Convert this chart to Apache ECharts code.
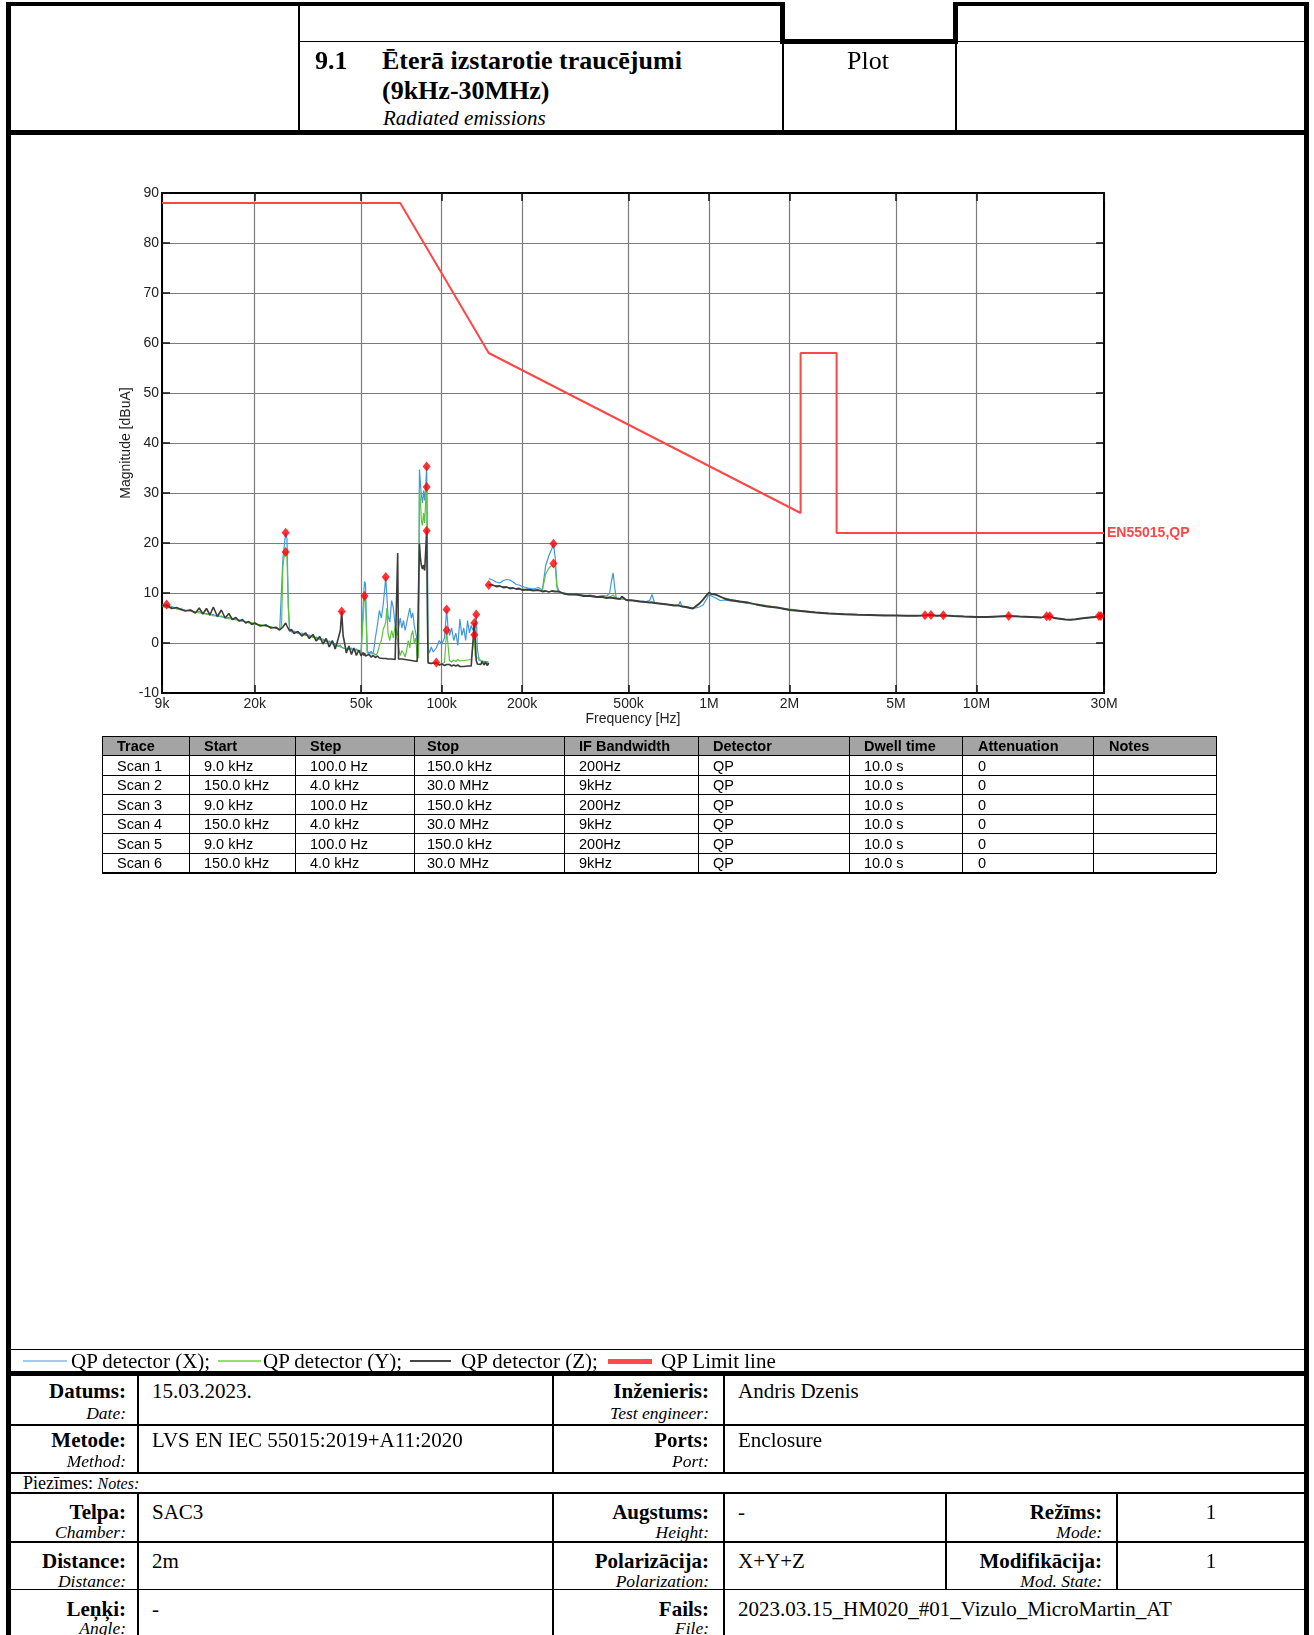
<!DOCTYPE html>
<html lang="lv">
<head>
<meta charset="utf-8">
<title>Ēterā izstarotie traucējumi (9kHz-30MHz)</title>
<script src="https://cdn.jsdelivr.net/npm/echarts@6.0.0/dist/echarts.min.js"></script>
<style>
  html, body { margin: 0; padding: 0; background: #fff; }
  body { position: relative; width: 1314px; height: 1635px; overflow: hidden;
         font-family: "Liberation Serif", "Times New Roman", serif; color: #000; }
  .ln { position: absolute; background: #000; }
  .tx { position: absolute; white-space: nowrap; line-height: 1; }
  .b { font-weight: bold; }
  .i { font-style: italic; }
  .sans { font-family: "Liberation Sans", Arial, sans-serif; }
  #chart { position: absolute; left: 0; top: 140px; width: 1314px; height: 600px; }
</style>
</head>
<body>
<div id="chart"></div>
<script>
// ---- Scan 1: 9 kHz - 150 kHz (frequencies in kHz, levels in dBuA) ----
const scan1Khz = [9.0, 9.37, 9.8, 10.2, 10.6, 11.0, 11.5, 12.0, 12.4, 12.8,
  13.2, 13.6, 14.0, 14.5, 15.0, 15.5, 16.0, 16.5, 17.0, 17.5,
  18.0, 18.5, 19.0, 19.5, 20.0, 21.0, 22.0, 23.0, 24.0, 24.8,
  25.2, 25.5, 25.8, 26.1, 26.4, 26.7, 27.0, 27.5, 28.0, 29.0,
  30, 31, 32, 33, 34, 35, 36, 37, 38, 39,
  40, 41, 41.8, 42.3, 42.8, 43.5, 44, 45, 46, 47,
  48, 49, 50, 50.8, 51.2, 51.5, 51.9, 52.3, 52.7, 53.5,
  54.5, 55.5, 56.5, 57.5, 58.5, 59.5, 60.5, 61.3, 61.8, 62.4,
  63, 64, 65, 66, 67, 68, 68.5, 69, 70, 71,
  72, 73, 74, 75, 76, 77, 78, 79, 80, 81,
  82, 82.6, 83.3, 84.0, 84.8, 85.6, 86.4, 87.2, 87.9, 88.5,
  89, 90, 91.5, 93, 95.5, 98, 100, 102.5, 104.4, 105.5,
  107, 109, 111, 113, 115, 117, 119, 121, 123, 125,
  127, 129, 131, 132.5, 133.5, 134.7, 136, 138, 140, 142,
  144, 146, 148, 150];
const scan1X = [7.6, 7.7, 7.3, 6.8, 6.9, 6.5, 6.6, 6.1, 6.3, 5.9,
  5.9, 5.6, 5.7, 5.3, 5.4, 5.0, 5.1, 4.7, 4.8, 4.4,
  4.5, 4.1, 4.2, 3.8, 4.0, 3.5, 3.6, 3.1, 3.2, 2.7,
  3.0, 17.0, 19.5, 22.05, 20.8, 8.0, 2.6, 2.2, 2.4, 1.9,
  2.0, 1.5, 1.6, 1.1, 1.2, 0.7, 0.8, 0.2, 0.4, -0.2,
  -0.3, -0.7, -0.4, -0.9, -0.6, -1.1, -0.8, -1.3, -1.0, -1.5,
  -1.2, -1.7, -1.5, -1.8, 10.5, 12.3, 11.8, 5.0, -1.5, -2.1,
  -1.7, -2.2, 1.0, 3.5, 6.5, 5.0, 7.8, 11.0, 13.2, 9.5,
  5.5, 4.2, 8.5, 7.0, 3.5, 2.0, 1.5, 3.0, 5.0, 3.0,
  4.5, 2.5, 4.0, 5.5, 7.0, 5.0, 6.0, 3.5, 2.0, 0.5,
  -0.5, 34.7, 32.0, 29.5, 28.0, 30.5, 28.5, 31.5, 35.3, 20.0,
  -1.0, -2.0, -0.8, -1.8, -1.0, 0.5, -0.3, 1.0, 6.7, 3.5,
  1.5, 3.0, 0.5, 2.0, -0.5, 4.8, 1.5, 3.0, 0.5, 4.5,
  2.0, 3.5, 2.5, 4.0, 3.0, 5.7, -1.0, -3.5, -3.8, -3.6,
  -4.0, -3.7, -4.1, -3.8];
const scan1Y = [7.3, 7.0, 7.1, 6.9, 6.6, 6.6, 6.3, 6.2, 6.0, 6.0,
  5.7, 5.8, 5.4, 5.5, 5.2, 5.1, 4.8, 4.9, 4.6, 4.6,
  4.3, 4.3, 4.0, 4.1, 3.7, 3.7, 3.3, 3.3, 2.9, 2.9,
  3.4, 15.5, 17.5, 18.2, 17.4, 7.0, 2.8, 2.5, 2.1, 2.2,
  1.7, 1.8, 1.3, 1.4, 0.9, 1.0, 0.5, 0.6, 0.0, 0.2,
  -0.6, -0.4, -0.8, -0.7, -1.0, -0.8, -1.2, -1.0, -1.4, -1.2,
  -1.6, -1.5, -1.9, -1.6, 7.5, 9.4, 8.8, 3.0, -2.0, -1.8,
  -2.2, -2.0, -2.4, -2.1, -0.5, 0.5, 2.8, 3.5, 4.2, 7.0,
  2.0, 0.5, 2.5, 1.0, 3.5, 1.0, 0.5, -1.0, -2.5, -1.5,
  -2.0, -2.8, -1.5, 0.5, -1.0, 1.5, 2.5, 0.0, 1.0, -2.5,
  -3.0, 30.9, 28.5, 24.5, 23.5, 26.0, 24.0, 28.5, 31.2, 12.0,
  -3.8, -4.2, -4.0, -4.3, -4.1, -4.4, -4.2, -3.9, 2.54, 0.0,
  -3.5, -3.8, -3.4, -3.7, -3.3, -3.6, -3.2, -3.5, -3.1, -3.4,
  -3.0, -3.3, -2.9, 1.67, -2.5, -3.0, -3.3, -3.0, -3.6, -3.2,
  -3.8, -3.4, -3.9, -4.4];
const scan1Z = [7.4, 7.5, 6.9, 7.1, 6.7, 6.4, 6.6, 6.0, 7.0, 5.8,
  6.9, 5.6, 7.2, 5.3, 6.6, 5.0, 5.9, 4.7, 5.1, 4.4,
  4.7, 4.0, 4.3, 3.7, 4.0, 3.4, 3.6, 3.0, 3.1, 2.6,
  2.9, 3.2, 3.6, 4.0, 3.4, 2.9, 2.4, 2.7, 1.9, 2.3,
  1.4, 2.0, 0.9, 1.7, 0.4, 1.3, -0.2, 0.9, -0.8, 0.5,
  -1.2, 0.8, 2.5, 6.3, 1.5, -0.4, -2.0, -0.6, -2.3, -1.0,
  -2.5, -1.4, -2.6, -1.9, -2.5, -2.0, -2.6, -2.2, -2.7, -2.3,
  -2.8, -2.5, -2.9, -2.6, -3.0, -2.7, -3.1, -2.8, -3.1, -2.9,
  -3.2, -2.9, -3.2, -3.0, -3.3, -3.1, 18.0, -3.2, -3.4, -3.2,
  -3.5, -3.3, -3.6, -3.4, -3.7, -3.5, -3.8, -3.6, -3.9, -3.7,
  -3.9, 19.9, 17.0, 15.5, 14.8, 15.6, 14.5, 18.5, 22.45, 5.0,
  -4.0, -4.3, -4.1, -4.4, -3.9, -4.4, -4.2, -4.5, -4.3, -4.5,
  -4.3, -4.6, -4.4, -4.6, -4.4, -4.7, -4.5, -4.7, -4.4, -4.6,
  -4.3, -4.6, -4.4, 4.0, 1.0, -3.5, -4.2, -3.8, -4.3, -3.7,
  -4.4, -3.8, -4.5, -4.0];

// ---- Scan 2: 150 kHz - 30 MHz ----
const scan2Khz = [150, 155, 160, 165, 170, 175, 180, 185, 190, 195,
  200, 210, 220, 230, 238, 245, 252, 258, 262, 266,
  270, 275, 285, 300, 320, 340, 360, 380, 400, 415,
  425, 432, 438, 444, 450, 465, 472, 490, 520, 550,
  580, 600, 612, 625, 650, 700, 740, 770, 780, 790,
  820, 850, 870, 890, 920, 950, 980, 1000, 1020, 1060,
  1100, 1150, 1200, 1300, 1400, 1500, 1650, 1800, 2000, 2200,
  2500, 2800, 3200, 3600, 4000, 4500, 5000, 5500, 6000, 6420,
  6760, 7100, 7520, 8200, 9000, 10000, 11000, 12000, 13200, 14500,
  16000, 17500, 18300, 18800, 19500, 20500, 21500, 22500, 23500, 25000,
  26500, 28000, 28700, 29200, 30000];
const scan2X = [12.9, 12.6, 12.2, 12.0, 12.5, 12.7, 12.6, 12.2, 11.7, 11.6,
  11.3, 11.0, 10.8, 11.1, 10.6, 15.5, 17.5, 18.8, 19.86, 17.0,
  11.5, 10.2, 10.0, 9.8, 9.8, 9.5, 9.6, 9.3, 9.5, 9.4,
  10.0, 12.5, 14.0, 11.0, 9.0, 8.9, 8.8, 8.7, 8.5, 8.4,
  8.3, 8.5, 9.7, 8.1, 7.9, 7.7, 7.5, 7.6, 8.3, 7.4,
  7.3, 7.0, 6.9, 7.0, 7.2, 7.6, 8.8, 9.9, 9.4, 9.0,
  8.5, 8.6, 8.4, 8.2, 7.9, 7.7, 7.3, 7.0, 6.7, 6.4,
  6.1, 5.9, 5.8, 5.7, 5.6, 5.55, 5.5, 5.5, 5.45, 5.5,
  5.5, 5.45, 5.5, 5.4, 5.3, 5.2, 5.25, 5.3, 5.35, 5.3,
  5.2, 5.1, 5.35, 5.3, 5.0, 4.85, 4.7, 4.65, 4.75, 4.95,
  5.1, 5.2, 5.4, 5.35, 5.3];
const scan2Y = [11.7, 11.5, 11.5, 11.3, 11.3, 11.1, 11.1, 10.9, 10.9, 10.7,
  10.8, 10.6, 10.6, 10.4, 10.5, 13.8, 15.0, 15.5, 15.9, 15.2,
  11.0, 10.1, 10.0, 9.8, 9.6, 9.6, 9.4, 9.3, 9.2, 9.1,
  9.2, 9.4, 9.6, 9.3, 8.9, 8.8, 8.8, 8.7, 8.5, 8.3,
  8.2, 8.1, 8.2, 8.0, 7.9, 7.7, 7.6, 7.5, 7.4, 7.4,
  7.2, 7.1, 7.0, 7.2, 7.8, 8.6, 9.5, 10.0, 9.9, 9.6,
  9.2, 9.0, 8.7, 8.4, 8.0, 7.8, 7.5, 7.1, 6.8, 6.5,
  6.2, 6.0, 5.8, 5.7, 5.6, 5.55, 5.5, 5.45, 5.5, 5.5,
  5.5, 5.45, 5.5, 5.4, 5.3, 5.2, 5.2, 5.3, 5.4, 5.3,
  5.2, 5.1, 5.3, 5.35, 5.0, 4.85, 4.7, 4.65, 4.75, 4.95,
  5.1, 5.2, 5.35, 5.4, 5.3];
const scan2Z = [11.6, 11.6, 11.3, 11.4, 11.1, 11.2, 10.9, 11.0, 10.8, 10.9,
  10.6, 10.7, 10.5, 10.6, 10.3, 10.4, 10.2, 10.4, 10.1, 10.3,
  10.0, 10.3, 9.9, 9.7, 9.7, 9.4, 9.4, 9.2, 9.2, 9.0,
  9.1, 9.0, 9.0, 8.9, 8.9, 8.8, 9.3, 8.6, 8.5, 8.3,
  8.2, 8.1, 8.1, 8.0, 7.9, 7.7, 7.5, 7.5, 7.4, 7.3,
  7.2, 7.0, 6.9, 7.3, 7.9, 8.7, 9.6, 10.1, 9.8, 9.7,
  9.3, 8.8, 8.6, 8.3, 8.1, 7.7, 7.3, 7.1, 6.6, 6.4,
  6.1, 5.9, 5.75, 5.65, 5.6, 5.5, 5.5, 5.45, 5.45, 5.53,
  5.6, 5.45, 5.53, 5.4, 5.3, 5.2, 5.2, 5.3, 5.4, 5.3,
  5.2, 5.1, 5.37, 5.37, 5.0, 4.85, 4.7, 4.65, 4.75, 4.95,
  5.1, 5.2, 5.4, 5.4, 5.3];

// ---- Peak markers ----
const peakKhz = [9.37, 26.1, 26.1, 42.3, 51.5, 61.8, 87.9, 87.9, 87.9, 95.5,
  104.4, 104.4, 132.5, 132.5, 134.7, 150, 262, 262, 6420, 6760,
  7520, 13200, 18300, 18800, 28700, 29200];
const peakDb = [7.7, 22.05, 18.2, 6.3, 9.4, 13.2, 35.3, 31.2, 22.45, -3.9,
  6.7, 2.54, 4.0, 1.67, 5.7, 11.6, 19.86, 15.9, 5.53, 5.6,
  5.53, 5.4, 5.37, 5.37, 5.4, 5.4];

// ---- QP limit line EN55015 ----
const limitKhz = [9, 70, 150, 2200, 2200, 3000, 3000, 30000];
const limitDb = [88, 88, 58, 26, 58, 58, 22, 22];
const limitName = 'EN55015,QP';

// ---- Axis ticks ----
const freqTicksHz = [9000, 20000, 50000, 100000, 200000, 500000, 1e6, 2e6, 5e6, 1e7, 3e7];
const freqTickLabels = ['9k', '20k', '50k', '100k', '200k', '500k', '1M', '2M', '5M', '10M', '30M'];
const levelMin = -10, levelMax = 90, levelStep = 10;

// ---- Tables ----
const traceHeader = ['Trace', 'Start', 'Step', 'Stop', 'IF Bandwidth', 'Detector', 'Dwell time', 'Attenuation', 'Notes'];
const traceRows = [
  ['Scan 1', '9.0 kHz', '100.0 Hz', '150.0 kHz', '200Hz', 'QP', '10.0 s', '0', ''],
  ['Scan 2', '150.0 kHz', '4.0 kHz', '30.0 MHz', '9kHz', 'QP', '10.0 s', '0', ''],
  ['Scan 3', '9.0 kHz', '100.0 Hz', '150.0 kHz', '200Hz', 'QP', '10.0 s', '0', ''],
  ['Scan 4', '150.0 kHz', '4.0 kHz', '30.0 MHz', '9kHz', 'QP', '10.0 s', '0', ''],
  ['Scan 5', '9.0 kHz', '100.0 Hz', '150.0 kHz', '200Hz', 'QP', '10.0 s', '0', ''],
  ['Scan 6', '150.0 kHz', '4.0 kHz', '30.0 MHz', '9kHz', 'QP', '10.0 s', '0', '']
];
const legendItems = ['QP detector (X);', 'QP detector (Y);', 'QP detector (Z);', 'QP Limit line'];

// ---------------------------------------------------------------
const SANS = '"Liberation Sans", Arial, sans-serif';
const toPairs = (khz, vals) => khz.map((f, i) => [f * 1000, vals[i]]);
function tickLabel(v) {
  let best = 0, bestD = Infinity;
  freqTicksHz.forEach((t, i) => { const d = Math.abs(Math.log(v / t)); if (d < bestD) { bestD = d; best = i; } });
  return bestD < 0.01 ? freqTickLabels[best] : '';
}

const chart = echarts.init(document.getElementById('chart'), null, { renderer: 'canvas' });
const axisLineStyle = { color: '#000', width: 2 };
const tickStyle = { show: true, inside: true, length: 8, lineStyle: { color: '#111', width: 1.5 } };
const gridLine = { show: true, lineStyle: { color: '#7c7c7c', width: 1.2, type: 'solid' } };

const traceLine = (name, data, color, width, z) => ({
  name, type: 'line', data, showSymbol: false, symbol: 'none', silent: true,
  lineStyle: { color, width }, itemStyle: { color }, z, animation: false, clip: true
});

chart.setOption({
  backgroundColor: 'transparent',
  animation: false,
  grid: { left: 162, top: 53, width: 942, height: 500, outerBoundsMode: 'none', containLabel: false },
  xAxis: [
    {
      type: 'log', logBase: 10, min: 9000, max: 3e7, position: 'bottom',
      axisLine: { show: true, onZero: false, lineStyle: axisLineStyle },
      axisTick: Object.assign({ customValues: freqTicksHz }, tickStyle),
      axisLabel: { show: true, customValues: freqTicksHz, formatter: tickLabel, margin: 4,
                   fontSize: 14, color: '#222', fontFamily: SANS, hideOverlap: false },
      splitLine: gridLine, minorTick: { show: false }, minorSplitLine: { show: false },
      name: 'Frequency [Hz]', nameLocation: 'middle', nameGap: 19, nameMoveOverlap: false,
      nameTextStyle: { fontSize: 14, color: '#222', fontFamily: SANS }
    },
    {
      type: 'log', logBase: 10, min: 9000, max: 3e7, position: 'top',
      axisLine: { show: true, onZero: false, lineStyle: axisLineStyle },
      axisTick: Object.assign({ customValues: freqTicksHz }, tickStyle),
      axisLabel: { show: false }, splitLine: { show: false }
    }
  ],
  yAxis: [
    {
      type: 'value', min: levelMin, max: levelMax, interval: levelStep, position: 'left',
      axisLine: { show: true, onZero: false, lineStyle: axisLineStyle },
      axisTick: tickStyle,
      axisLabel: { show: true, margin: 3, fontSize: 14, color: '#222', fontFamily: SANS },
      splitLine: gridLine,
      name: 'Magnitude [dBuA]', nameLocation: 'middle', nameGap: 29, nameRotate: 90,
      nameMoveOverlap: false,
      nameTextStyle: { fontSize: 14, color: '#222', fontFamily: SANS }
    },
    {
      type: 'value', min: levelMin, max: levelMax, interval: levelStep, position: 'right',
      axisLine: { show: true, onZero: false, lineStyle: axisLineStyle },
      axisTick: tickStyle, axisLabel: { show: false }, splitLine: { show: false }
    }
  ],
  series: [
    traceLine('QP detector (X) scan 1', toPairs(scan1Khz, scan1X), '#3f97dd', 1.2, 2),
    traceLine('QP detector (X) scan 2', toPairs(scan2Khz, scan2X), '#3f97dd', 1.2, 2),
    traceLine('QP detector (Y) scan 1', toPairs(scan1Khz, scan1Y), '#5cc43a', 1.2, 3),
    traceLine('QP detector (Y) scan 2', toPairs(scan2Khz, scan2Y), '#5cc43a', 1.2, 3),
    traceLine('QP detector (Z) scan 1', toPairs(scan1Khz, scan1Z), '#3c3c3c', 1.6, 4),
    traceLine('QP detector (Z) scan 2', toPairs(scan2Khz, scan2Z), '#3c3c3c', 1.8, 4),
    Object.assign(traceLine('QP Limit line', toPairs(limitKhz, limitDb), '#ff4646', 2, 5), {
      endLabel: { show: true, formatter: limitName, distance: 3, color: '#ff4646',
                  fontWeight: 'bold', fontSize: 14, fontFamily: SANS }
    }),
    {
      name: 'Peaks', type: 'scatter', data: toPairs(peakKhz, peakDb), symbol: 'diamond',
      symbolSize: [8, 10], itemStyle: { color: '#ff0000' }, z: 6, silent: true, animation: false
    }
  ]
});

// ---------------------------------------------------------------
// Report frame, header, trace table, legend and info table
function rule(x, y, w, h) {
  const d = document.createElement('div');
  d.className = 'ln';
  d.style.cssText = `left:${x}px;top:${y}px;width:${w}px;height:${h}px`;
  document.body.appendChild(d);
}
function label(str, x, cy, size, cls, align) {
  const d = document.createElement('div');
  d.className = 'tx ' + (cls || '');
  d.textContent = str;
  d.style.fontSize = size + 'px';
  d.style.top = (cy - size / 2) + 'px';
  if (align === 'right') d.style.right = (1314 - x) + 'px';
  else if (align === 'center') { d.style.left = x + 'px'; d.style.transform = 'translateX(-50%)'; }
  else d.style.left = x + 'px';
  document.body.appendChild(d);
  return d;
}

// outer frame
rule(6, 2, 5, 1633);
rule(1304, 2, 5, 1633);
// header block
rule(6, 2, 779, 4);
rule(953, 2, 356, 4);
rule(780, 2, 5, 42);
rule(953, 2, 5, 42);
rule(780, 39, 178, 5);
rule(298, 40.5, 482, 1.5);
rule(958, 40.5, 346, 1.5);
rule(298, 2, 1.5, 132);
rule(782, 44, 1.5, 88);
rule(955, 44, 1.5, 88);
rule(6, 130, 1303, 5);

label('9.1', 315, 60.5, 26, 'b');
label('Ēterā izstarotie traucējumi', 382, 60.5, 26, 'b');
label('(9kHz-30MHz)', 382, 91, 26, 'b');
label('Radiated emissions', 383, 118, 21, 'i');
label('Plot', 868, 60.5, 26, '', 'center');

// trace settings table
const colEdges = [102, 189, 295, 414, 564, 698, 849, 962, 1093, 1216];
const textX = [117, 204, 310, 427, 579, 713, 864, 978, 1109];
const tTop = 736, rowH = 19.57;
const tBottom = tTop + rowH * (traceRows.length + 1);
const hdrBg = document.createElement('div');
hdrBg.style.cssText = `position:absolute;left:${colEdges[0]}px;top:${tTop}px;width:${colEdges[9] - colEdges[0]}px;height:${rowH}px;background:#a4a4a4`;
document.body.appendChild(hdrBg);
for (let r = 0; r <= traceRows.length + 1; r++) {
  const y = tTop + r * rowH;
  rule(colEdges[0], y - 0.5, colEdges[9] - colEdges[0], (r === 0 || r === traceRows.length + 1) ? 1.6 : 1);
}
colEdges.forEach((x, i) => rule(x - 0.5, tTop, (i === 0 || i === 9) ? 1.6 : 1, tBottom - tTop));
traceHeader.forEach((h, c) => label(h, textX[c], tTop + rowH / 2 + 0.5, 14.5, 'sans b'));
traceRows.forEach((row, r) => row.forEach((v, c) => {
  if (v) label(v, textX[c], tTop + rowH * (r + 1.5) + 0.5, 14.5, 'sans');
}));

// legend strip
rule(11, 1348.5, 1293, 1.5);
rule(6, 1371, 1303, 5);
const legendSamples = [[23, 44, '#9ecbf3', 2], [218, 43, '#8fe36c', 2], [410, 41, '#454545', 2], [608, 44, '#ff4a4a', 5]];
const legendTextX = [71, 263, 461, 661];
legendSamples.forEach((s, i) => {
  const d = document.createElement('div');
  d.style.cssText = `position:absolute;left:${s[0]}px;top:${1361 - s[3] / 2}px;width:${s[1]}px;height:${s[3]}px;background:${s[2]}`;
  document.body.appendChild(d);
  label(legendItems[i], legendTextX[i], 1361, 21, '');
});

// info table
[1424, 1472, 1492, 1541, 1588.5].forEach(y => rule(11, y, 1293, 1.5));
[137, 552, 723].forEach(x => { rule(x, 1376, 1.5, 96); rule(x, 1492, 1.5, 143); });
[945, 1116].forEach(x => rule(x, 1492, 1.5, 97));

const infoRows = [
  { bold: 1391, ital: 1413.5, cells: [['Datums:', 'Date:', '15.03.2023.'], ['Inženieris:', 'Test engineer:', 'Andris Dzenis']] },
  { bold: 1440, ital: 1461.5, cells: [['Metode:', 'Method:', 'LVS EN IEC 55015:2019+A11:2020'], ['Ports:', 'Port:', 'Enclosure']] },
  { bold: 1512, ital: 1533, cells: [['Telpa:', 'Chamber:', 'SAC3'], ['Augstums:', 'Height:', '-'], ['Režīms:', 'Mode:', '1']] },
  { bold: 1561, ital: 1581.5, cells: [['Distance:', 'Distance:', '2m'], ['Polarizācija:', 'Polarization:', 'X+Y+Z'], ['Modifikācija:', 'Mod. State:', '1']] },
  { bold: 1609, ital: 1629, cells: [['Leņķi:', 'Angle:', '-'], ['Fails:', 'File:', '2023.03.15_HM020_#01_Vizulo_MicroMartin_AT']] }
];
const labelRight = [126, 709, 1102];
const valueLeft = [152, 738, null];
infoRows.forEach(row => {
  row.cells.forEach((cell, k) => {
    label(cell[0], labelRight[k], row.bold, 21, 'b', 'right');
    label(cell[1], labelRight[k], row.ital, 17.5, 'i', 'right');
    if (k < 2) label(cell[2], valueLeft[k], row.bold, 21, '');
    else label(cell[2], 1211, row.bold, 21, '', 'center');
  });
});
const notes = label('Piezīmes: ', 23, 1483, 18, '');
const notesEn = document.createElement('span');
notesEn.className = 'i';
notesEn.style.fontSize = '16px';
notesEn.textContent = 'Notes:';
notes.appendChild(notesEn);
</script>
</body>
</html>
